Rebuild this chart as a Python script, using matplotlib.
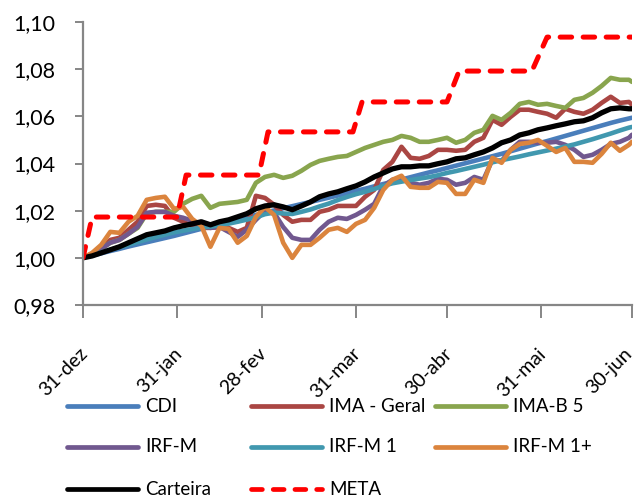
import matplotlib
matplotlib.use("Agg")
import matplotlib.pyplot as plt
from matplotlib.lines import Line2D
from matplotlib.transforms import ScaledTranslation

plt.rcParams['font.family'] = ['Lato', 'DejaVu Sans']

# ---- data (days since 31-dez) ----
days = [0, 3, 6, 9, 12, 15, 18, 21, 24, 27, 30, 33, 36, 39, 42, 45, 48, 51, 54, 57,
        60, 63, 66, 69, 72, 75, 78, 81, 84, 87, 90, 93, 96, 99, 102, 105, 108, 111, 114, 117,
        120, 123, 126, 129, 132, 135, 138, 141, 144, 147, 150, 153, 156, 159, 162, 165, 168, 171, 174, 177,
        180, 181]

cdi = [1.0000, 1.0010, 1.0019, 1.0029, 1.0038, 1.0048, 1.0057, 1.0066, 1.0075, 1.0084,
       1.0093, 1.0103, 1.0113, 1.0123, 1.0133, 1.0143, 1.0153, 1.0163, 1.0172, 1.0182,
       1.0192, 1.0201, 1.0210, 1.0219, 1.0228, 1.0237, 1.0246, 1.0255, 1.0264, 1.0274,
       1.0284, 1.0293, 1.0303, 1.0313, 1.0322, 1.0332, 1.0342, 1.0352, 1.0362, 1.0371,
       1.0381, 1.0391, 1.0401, 1.0411, 1.0421, 1.0431, 1.0441, 1.0452, 1.0463, 1.0474,
       1.0485, 1.0495, 1.0506, 1.0517, 1.0528, 1.0539, 1.0550, 1.0561, 1.0572, 1.0582,
       1.0591, 1.0594]

ima_geral = [1.0000, 1.0017, 1.0042, 1.0076, 1.0085, 1.0119, 1.0153, 1.0220, 1.0225, 1.0220,
             1.0170, 1.0153, 1.0136, 1.0127, 1.0127, 1.0131, 1.0127, 1.0110, 1.0127, 1.0263,
             1.0254, 1.0225, 1.0182, 1.0153, 1.0161, 1.0161, 1.0195, 1.0204, 1.0220, 1.0220,
             1.0220, 1.0259, 1.0288, 1.0373, 1.0407, 1.0471, 1.0424, 1.0420, 1.0432, 1.0458,
             1.0458, 1.0454, 1.0458, 1.0492, 1.0509, 1.0585, 1.0564, 1.0598, 1.0628, 1.0628,
             1.0619, 1.0611, 1.0594, 1.0632, 1.0619, 1.0611, 1.0628, 1.0657, 1.0683, 1.0657,
             1.0661, 1.0649]

ima_b5 = [1.0000, 1.0017, 1.0038, 1.0064, 1.0076, 1.0102, 1.0127, 1.0187, 1.0195, 1.0195,
          1.0195, 1.0229, 1.0250, 1.0263, 1.0212, 1.0229, 1.0233, 1.0237, 1.0246, 1.0318,
          1.0343, 1.0352, 1.0339, 1.0348, 1.0369, 1.0394, 1.0411, 1.0420, 1.0428, 1.0432,
          1.0449, 1.0466, 1.0479, 1.0492, 1.0500, 1.0517, 1.0509, 1.0492, 1.0492, 1.0500,
          1.0509, 1.0488, 1.0500, 1.0530, 1.0543, 1.0602, 1.0585, 1.0615, 1.0653, 1.0661,
          1.0649, 1.0653, 1.0644, 1.0636, 1.0670, 1.0678, 1.0700, 1.0729, 1.0763, 1.0755,
          1.0755, 1.0746]

irf_m = [1.0000, 1.0017, 1.0038, 1.0064, 1.0076, 1.0102, 1.0131, 1.0191, 1.0195, 1.0195,
         1.0178, 1.0170, 1.0157, 1.0140, 1.0127, 1.0131, 1.0110, 1.0089, 1.0119, 1.0161,
         1.0199, 1.0191, 1.0131, 1.0085, 1.0076, 1.0076, 1.0119, 1.0153, 1.0170, 1.0165,
         1.0182, 1.0204, 1.0229, 1.0305, 1.0331, 1.0339, 1.0318, 1.0310, 1.0318, 1.0335,
         1.0331, 1.0310, 1.0318, 1.0343, 1.0331, 1.0416, 1.0411, 1.0458, 1.0492, 1.0492,
         1.0488, 1.0488, 1.0492, 1.0479, 1.0458, 1.0428, 1.0437, 1.0458, 1.0483, 1.0492,
         1.0509, 1.0522]

irf_m1 = [1.0000, 1.0012, 1.0023, 1.0034, 1.0045, 1.0056, 1.0067, 1.0078, 1.0088, 1.0098,
          1.0108, 1.0115, 1.0122, 1.0128, 1.0132, 1.0138, 1.0145, 1.0153, 1.0162, 1.0172,
          1.0185, 1.0192, 1.0188, 1.0186, 1.0195, 1.0205, 1.0218, 1.0230, 1.0245, 1.0258,
          1.0270, 1.0280, 1.0292, 1.0305, 1.0316, 1.0323, 1.0330, 1.0336, 1.0342, 1.0350,
          1.0360, 1.0368, 1.0377, 1.0386, 1.0395, 1.0405, 1.0414, 1.0422, 1.0430, 1.0439,
          1.0447, 1.0455, 1.0463, 1.0472, 1.0481, 1.0492, 1.0503, 1.0515, 1.0527, 1.0540,
          1.0552, 1.0555]

irf_m1p = [1.0000, 1.0021, 1.0055, 1.0110, 1.0106, 1.0153, 1.0178, 1.0246, 1.0254, 1.0259,
           1.0208, 1.0216, 1.0165, 1.0136, 1.0047, 1.0127, 1.0123, 1.0064, 1.0093, 1.0174,
           1.0216, 1.0182, 1.0064, 1.0000, 1.0055, 1.0055, 1.0085, 1.0119, 1.0127, 1.0110,
           1.0144, 1.0161, 1.0212, 1.0288, 1.0331, 1.0348, 1.0301, 1.0297, 1.0297, 1.0322,
           1.0318, 1.0271, 1.0271, 1.0331, 1.0318, 1.0424, 1.0403, 1.0458, 1.0483, 1.0488,
           1.0500, 1.0475, 1.0449, 1.0466, 1.0407, 1.0407, 1.0403, 1.0441, 1.0488, 1.0454,
           1.0479, 1.0492]

carteira = [1.0000, 1.0008, 1.0021, 1.0034, 1.0047, 1.0064, 1.0081, 1.0098, 1.0106, 1.0114,
            1.0127, 1.0136, 1.0144, 1.0153, 1.0140, 1.0153, 1.0161, 1.0174, 1.0187, 1.0208,
            1.0220, 1.0225, 1.0216, 1.0204, 1.0220, 1.0237, 1.0259, 1.0271, 1.0280, 1.0293,
            1.0305, 1.0322, 1.0343, 1.0360, 1.0377, 1.0386, 1.0386, 1.0390, 1.0390, 1.0399,
            1.0407, 1.0420, 1.0424, 1.0437, 1.0449, 1.0466, 1.0488, 1.0500, 1.0521, 1.0530,
            1.0543, 1.0551, 1.0560, 1.0568, 1.0577, 1.0581, 1.0594, 1.0615, 1.0632, 1.0636,
            1.0632, 1.0632]

meta_days = [0, 3, 31, 34, 58, 61, 89, 92, 120, 124, 148, 153, 181]
meta = [1.0000, 1.0173, 1.0173, 1.0351, 1.0351, 1.0534, 1.0534, 1.0661, 1.0661, 1.0792,
        1.0792, 1.0936, 1.0936]

tick_days = [0, 31, 59, 90, 120, 151, 181]
tick_labels = ['31-dez', '31-jan', '28-fev', '31-mar', '30-abr', '31-mai', '30-jun']
y_ticks = [0.98, 1.00, 1.02, 1.04, 1.06, 1.08, 1.10]

series = [
    ('CDI', cdi, '#4A7EBB'),
    ('IMA - Geral', ima_geral, '#AA4643'),
    ('IMA-B 5', ima_b5, '#89A54E'),
    ('IRF-M', irf_m, '#71588F'),
    ('IRF-M 1', irf_m1, '#4198AF'),
    ('IRF-M 1+', irf_m1p, '#DB843D'),
    ('Carteira', carteira, '#000000'),
]

W, H = 640, 498
fig = plt.figure(figsize=(W / 100, H / 100), dpi=100)
ax = fig.add_axes([83 / W, 1 - 305 / H, (632 - 83) / W, (305 - 22) / H])

LW = 3.3
for name, vals, col in series:
    lw = 3.8 if name == 'Carteira' else LW
    ax.plot(days, vals, color=col, lw=lw, solid_joinstyle='round', solid_capstyle='round')

ax.plot(meta_days, meta, color='#FF0000', lw=3.6, dashes=(2.3, 2.3),
        dash_capstyle='round', dash_joinstyle='round')

ax.set_xlim(0, 181)
ax.set_ylim(0.98, 1.10)
ax.set_yticks(y_ticks)
ax.set_yticklabels([f"{v:.2f}".replace('.', ',') for v in y_ticks])
ax.set_xticks(tick_days)
ax.set_xticklabels(tick_labels, rotation=45, ha='right', va='center', rotation_mode='anchor')

for s in ['top', 'right']:
    ax.spines[s].set_visible(False)
for s in ['left', 'bottom']:
    ax.spines[s].set_color('#868686')
    ax.spines[s].set_linewidth(1.6)

ax.tick_params(axis='y', colors='#868686', length=6, width=1.4, pad=14, labelsize=15.5,
               labelcolor='#000000')
ax.tick_params(axis='x', colors='#868686', length=9, width=1.4, pad=24, labelsize=14,
               labelcolor='#000000')
xlabels = ax.get_xticklabels()
for i, lbl in enumerate(xlabels):
    dx = 0.02 if i < len(xlabels) - 1 else -0.03
    lbl.set_transform(lbl.get_transform() + ScaledTranslation(dx, 0, fig.dpi_scale_trans))

# ---- legend drawn manually in figure pixels ----
legend_items = [
    ('CDI', '#4A7EBB', 0, 0, False),
    ('IMA - Geral', '#AA4643', 1, 0, False),
    ('IMA-B 5', '#89A54E', 2, 0, False),
    ('IRF-M', '#71588F', 0, 1, False),
    ('IRF-M 1', '#4198AF', 1, 1, False),
    ('IRF-M 1+', '#DB843D', 2, 1, False),
    ('Carteira', '#000000', 0, 2, False),
    ('META', '#FF0000', 1, 2, True),
]
col_x = [67, 251, 435]
row_y = [406, 447, 489]
for label, col, c, r, dashed in legend_items:
    x0 = col_x[c]
    y = 1 - row_y[r] / H
    kw = dict(color=col, lw=3.4, transform=fig.transFigure)
    if dashed:
        ln = Line2D([x0 / W, (x0 + 71) / W], [y, y], dashes=(2.3, 2.3), dash_capstyle='round', **kw)
    else:
        ln = Line2D([x0 / W, (x0 + 71) / W], [y, y], solid_capstyle='round', **kw)
    fig.add_artist(ln)
    fig.text((x0 + 78) / W, y, label, fontsize=13.5, va='center', ha='left')

fig.savefig('out.png', dpi=100)
